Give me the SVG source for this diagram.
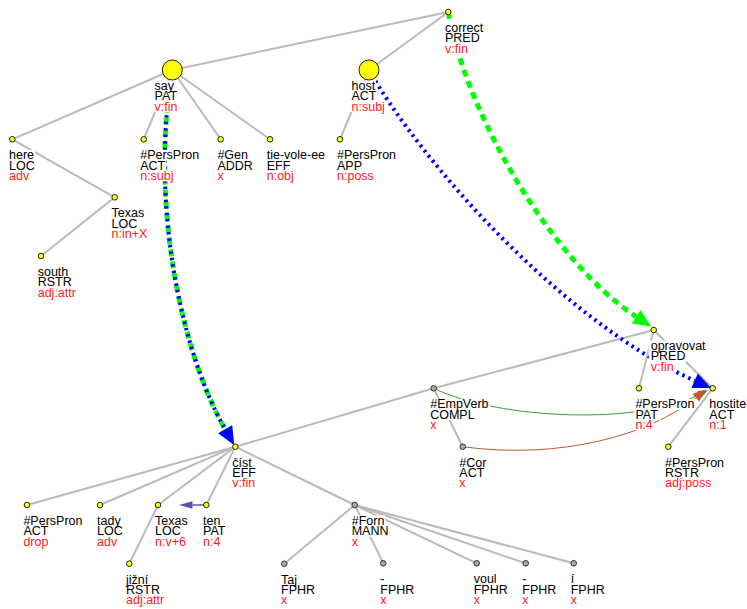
<svg xmlns="http://www.w3.org/2000/svg" width="747" height="609" viewBox="0 0 747 609">
<defs>
<style>
.e line{stroke:#bababa;stroke-width:2}
.nd text{font-family:"Liberation Sans",Arial,sans-serif;font-size:12.5px;fill:#000}
.nd text.r{fill:#ff1a1a}
.b{fill:#ffffff}
.y{fill:#ffff00;stroke:#222;stroke-width:1}
.g{fill:#a8a8a8;stroke:#333;stroke-width:1}
.a{fill:none}
.gd{stroke:#00ff00;stroke-width:5;stroke-dasharray:7 5}
.bd{stroke:#0000ff;stroke-width:4;stroke-dasharray:2.5 4}
</style>
<marker id="ahG" markerUnits="userSpaceOnUse" markerWidth="18" markerHeight="16" refX="0" refY="8" orient="auto" overflow="visible"><path d="M0,0L18,8L0,16Z" fill="#00ff00"/></marker>
<marker id="ahB" markerUnits="userSpaceOnUse" markerWidth="18" markerHeight="16" refX="0" refY="8" orient="auto" overflow="visible"><path d="M0,0L18,8L0,16Z" fill="#0000ff"/></marker>
<marker id="ahGs" markerUnits="userSpaceOnUse" markerWidth="10" markerHeight="8" refX="0" refY="4" orient="auto" overflow="visible"><path d="M0,0L10,4L0,8Z" fill="#3d9a3d"/></marker>
<marker id="ahR" markerUnits="userSpaceOnUse" markerWidth="13" markerHeight="10" refX="0" refY="5" orient="auto" overflow="visible"><path d="M0,0L13,5L0,10Z" fill="#c4562f"/></marker>
<marker id="ahS" markerUnits="userSpaceOnUse" markerWidth="13.5" markerHeight="7.5" refX="0" refY="3.75" orient="auto" overflow="visible"><path d="M0,0L13.5,3.75L0,7.5Z" fill="#5656a6"/></marker>
</defs>
<rect width="747" height="609" fill="#ffffff"/>
<g id="connectors">
<g class="e">
<line x1="448.3" y1="12" x2="172.3" y2="70"/>
<line x1="448.3" y1="12" x2="369" y2="70"/>
<line x1="172.3" y1="70" x2="12.3" y2="139.3"/>
<line x1="172.3" y1="70" x2="143.7" y2="139.3"/>
<line x1="172.3" y1="70" x2="220.7" y2="139.3"/>
<line x1="172.3" y1="70" x2="270" y2="139.3"/>
<line x1="12.3" y1="139.3" x2="114.7" y2="197.3"/>
<line x1="114.7" y1="197.3" x2="41" y2="256"/>
<line x1="369" y1="70" x2="340" y2="139.3"/>
<line x1="653.7" y1="330" x2="433.7" y2="388.3"/>
<line x1="653.7" y1="330" x2="639" y2="388.3"/>
<line x1="653.7" y1="330" x2="712.7" y2="388.3"/>
<line x1="712.7" y1="388.3" x2="668.3" y2="446.7"/>
<line x1="433.7" y1="388.3" x2="462.7" y2="446.7"/>
<line x1="433.7" y1="388.3" x2="235.3" y2="446.7"/>
<line x1="235.3" y1="446.7" x2="27" y2="505"/>
<line x1="235.3" y1="446.7" x2="100" y2="505"/>
<line x1="235.3" y1="446.7" x2="158" y2="505"/>
<line x1="235.3" y1="446.7" x2="206.3" y2="505"/>
<line x1="235.3" y1="446.7" x2="354.7" y2="505"/>
<line x1="158" y1="505" x2="129.3" y2="563.7"/>
<line x1="354.7" y1="505" x2="284.3" y2="563.7"/>
<line x1="354.7" y1="505" x2="383.3" y2="563.3"/>
<line x1="354.7" y1="505" x2="476.7" y2="563.3"/>
<line x1="354.7" y1="505" x2="525.7" y2="563.3"/>
<line x1="354.7" y1="505" x2="573.7" y2="563.3"/>
</g>
<path class="a gd" d="M448.3,12 C465,110 550,260 636.2,316.7" marker-end="url(#ahG)"/>
<path class="a bd" d="M369,70 C420,160 560,320 694.6,380.7" marker-end="url(#ahB)"/>
<path class="a gd" d="M172.3,70 C150,200 180,350 225.2,429.3" marker-end="url(#ahG)"/>
<path class="a bd" d="M172.3,70 C150,200 180,350 225.2,429.3" marker-end="url(#ahB)"/>
<path class="a" d="M433.7,388.3 C500,420 640,425 699.1,394.6" stroke="#3d9a3d" stroke-width="1" marker-end="url(#ahGs)"/>
<path class="a" d="M462.7,446.7 C560,460 650,435 695.9,397.7" stroke="#c4562f" stroke-width="1" marker-end="url(#ahR)"/>
<path class="a" d="M204,505 L192.5,505" stroke="#8282c0" stroke-width="2" marker-end="url(#ahS)"/>
</g>
<g class="nd">
<g id="n-correct" transform="translate(448.3,12)"><rect class="b" x="-4.3" y="10.5" width="40.2" height="11"/><rect class="b" x="-4.3" y="20.8" width="36.7" height="11"/><rect class="b" x="-4.3" y="31.1" width="24.9" height="11"/><text x="-3.3" y="20">correct</text><text x="-3.3" y="30.3">PRED</text><text class="r" x="-3.3" y="40.6">v:fin</text><circle class="y" r="2.8"/></g>
<g id="n-say" transform="translate(172.3,70)"><rect class="b" x="-18.7" y="10.5" width="21.5" height="11"/><rect class="b" x="-18.7" y="20.8" width="26.3" height="11"/><rect class="b" x="-18.7" y="31.1" width="24.9" height="11"/><text x="-17.7" y="20">say</text><text x="-17.7" y="30.3">PAT</text><text class="r" x="-17.7" y="40.6">v:fin</text><circle class="y" r="10"/></g>
<g id="n-host" transform="translate(369,70)"><rect class="b" x="-18.5" y="10.5" width="25.6" height="11"/><rect class="b" x="-18.5" y="20.8" width="27" height="11"/><rect class="b" x="-18.5" y="31.1" width="35.4" height="11"/><text x="-17.5" y="20">host</text><text x="-17.5" y="30.3">ACT</text><text class="r" x="-17.5" y="40.6">n:subj</text><circle class="y" r="10"/></g>
<g id="n-here" transform="translate(12.3,139.3)"><rect class="b" x="-4.3" y="10.5" width="27" height="11"/><rect class="b" x="-4.3" y="20.8" width="27.7" height="11"/><rect class="b" x="-4.3" y="31.1" width="22.2" height="11"/><text x="-3.3" y="20">here</text><text x="-3.3" y="30.3">LOC</text><text class="r" x="-3.3" y="40.6">adv</text><circle class="y" r="2.8"/></g>
<g id="n-perspron-act-en" transform="translate(143.7,139.3)"><rect class="b" x="-4.5" y="10.5" width="61.1" height="11"/><rect class="b" x="-4.5" y="20.8" width="27" height="11"/><rect class="b" x="-4.5" y="31.1" width="35.4" height="11"/><text x="-3.5" y="20">#PersPron</text><text x="-3.5" y="30.3">ACT</text><text class="r" x="-3.5" y="40.6">n:subj</text><circle class="y" r="2.8"/></g>
<g id="n-gen" transform="translate(220.7,139.3)"><rect class="b" x="-4.3" y="10.5" width="32.6" height="11"/><rect class="b" x="-4.3" y="20.8" width="37.4" height="11"/><rect class="b" x="-4.3" y="31.1" width="8.3" height="11"/><text x="-3.3" y="20">#Gen</text><text x="-3.3" y="30.3">ADDR</text><text class="r" x="-3.3" y="40.6">x</text><circle class="y" r="2.8"/></g>
<g id="n-tie" transform="translate(270,139.3)"><rect class="b" x="-4.3" y="10.5" width="60.4" height="11"/><rect class="b" x="-4.3" y="20.8" width="25.6" height="11"/><rect class="b" x="-4.3" y="31.1" width="29.1" height="11"/><text x="-3.3" y="20">tie-vole-ee</text><text x="-3.3" y="30.3">EFF</text><text class="r" x="-3.3" y="40.6">n:obj</text><circle class="y" r="2.8"/></g>
<g id="n-perspron-app" transform="translate(340,139.3)"><rect class="b" x="-4" y="10.5" width="61.1" height="11"/><rect class="b" x="-4" y="20.8" width="27" height="11"/><rect class="b" x="-4" y="31.1" width="38.8" height="11"/><text x="-3" y="20">#PersPron</text><text x="-3" y="30.3">APP</text><text class="r" x="-3" y="40.6">n:poss</text><circle class="y" r="2.8"/></g>
<g id="n-texas-en" transform="translate(114.7,197.3)"><rect class="b" x="-4.1" y="10.5" width="36" height="11"/><rect class="b" x="-4.1" y="20.8" width="27.7" height="11"/><rect class="b" x="-4.1" y="31.1" width="37.8" height="11"/><text x="-3.1" y="20">Texas</text><text x="-3.1" y="30.3">LOC</text><text class="r" x="-3.1" y="40.6">n:in+X</text><circle class="y" r="2.8"/></g>
<g id="n-south" transform="translate(41,256)"><rect class="b" x="-4.3" y="10.5" width="32.6" height="11"/><rect class="b" x="-4.3" y="20.8" width="36" height="11"/><rect class="b" x="-4.3" y="31.1" width="40.2" height="11"/><text x="-3.3" y="20">south</text><text x="-3.3" y="30.3">RSTR</text><text class="r" x="-3.3" y="40.6">adj:attr</text><circle class="y" r="2.8"/></g>
<g id="n-opravovat" transform="translate(653.7,330)"><rect class="b" x="-5" y="10.5" width="57.9" height="11"/><rect class="b" x="-5" y="20.8" width="37.7" height="11"/><rect class="b" x="-5" y="31.1" width="25.9" height="11"/><text x="-3" y="20">opravovat</text><text x="-3" y="30.3">PRED</text><text class="r" x="-3" y="40.6">v:fin</text><circle class="y" r="2.8"/></g>
<g id="n-empverb" transform="translate(433.7,388.3)"><rect class="b" x="-4.5" y="10.5" width="61.1" height="11"/><rect class="b" x="-4.5" y="20.8" width="46.5" height="11"/><rect class="b" x="-4.5" y="31.1" width="8.3" height="11"/><text x="-3.5" y="20">#EmpVerb</text><text x="-3.5" y="30.3">COMPL</text><text class="r" x="-3.5" y="40.6">x</text><circle class="g" r="2.8"/></g>
<g id="n-perspron-pat" transform="translate(639,388.3)"><rect class="b" x="-4.6" y="10.5" width="61.1" height="11"/><rect class="b" x="-4.6" y="20.8" width="26.3" height="11"/><rect class="b" x="-4.6" y="31.1" width="19.4" height="11"/><text x="-3.6" y="20">#PersPron</text><text x="-3.6" y="30.3">PAT</text><text class="r" x="-3.6" y="40.6">n:4</text><circle class="y" r="2.8"/></g>
<g id="n-hostitel" transform="translate(712.7,388.3)"><rect class="b" x="-4.4" y="10.5" width="41.6" height="11"/><rect class="b" x="-4.4" y="20.8" width="27" height="11"/><rect class="b" x="-4.4" y="31.1" width="19.4" height="11"/><text x="-3.4" y="20">hostitel</text><text x="-3.4" y="30.3">ACT</text><text class="r" x="-3.4" y="40.6">n:1</text><circle class="y" r="2.8"/></g>
<g id="n-cor" transform="translate(462.7,446.7)"><rect class="b" x="-4.4" y="10.5" width="29.1" height="11"/><rect class="b" x="-4.4" y="20.8" width="27" height="11"/><rect class="b" x="-4.4" y="31.1" width="8.3" height="11"/><text x="-3.4" y="20">#Cor</text><text x="-3.4" y="30.3">ACT</text><text class="r" x="-3.4" y="40.6">x</text><circle class="g" r="2.8"/></g>
<g id="n-perspron-rstr" transform="translate(668.3,446.7)"><rect class="b" x="-4.3" y="10.5" width="61.1" height="11"/><rect class="b" x="-4.3" y="20.8" width="36" height="11"/><rect class="b" x="-4.3" y="31.1" width="48.6" height="11"/><text x="-3.3" y="20">#PersPron</text><text x="-3.3" y="30.3">RSTR</text><text class="r" x="-3.3" y="40.6">adj:poss</text><circle class="y" r="2.8"/></g>
<g id="n-cist" transform="translate(235.3,446.7)"><rect class="b" x="-4" y="10.5" width="20.8" height="11"/><rect class="b" x="-4" y="20.8" width="25.6" height="11"/><rect class="b" x="-4" y="31.1" width="24.9" height="11"/><text x="-3" y="20">číst</text><text x="-3" y="30.3">EFF</text><text class="r" x="-3" y="40.6">v:fin</text><circle class="y" r="2.8"/></g>
<g id="n-perspron-act-cs" transform="translate(27,505)"><rect class="b" x="-4.6" y="10.5" width="61.1" height="11"/><rect class="b" x="-4.6" y="20.8" width="27" height="11"/><rect class="b" x="-4.6" y="31.1" width="27" height="11"/><text x="-3.6" y="20">#PersPron</text><text x="-3.6" y="30.3">ACT</text><text class="r" x="-3.6" y="40.6">drop</text><circle class="y" r="2.8"/></g>
<g id="n-tady" transform="translate(100,505)"><rect class="b" x="-4" y="10.5" width="25.6" height="11"/><rect class="b" x="-4" y="20.8" width="27.7" height="11"/><rect class="b" x="-4" y="31.1" width="22.2" height="11"/><text x="-3" y="20">tady</text><text x="-3" y="30.3">LOC</text><text class="r" x="-3" y="40.6">adv</text><circle class="y" r="2.8"/></g>
<g id="n-texas-cs" transform="translate(158,505)"><rect class="b" x="-4" y="10.5" width="36" height="11"/><rect class="b" x="-4" y="20.8" width="27.7" height="11"/><rect class="b" x="-4" y="31.1" width="32.9" height="11"/><text x="-3" y="20">Texas</text><text x="-3" y="30.3">LOC</text><text class="r" x="-3" y="40.6">n:v+6</text><circle class="y" r="2.8"/></g>
<g id="n-ten" transform="translate(206.3,505)"><rect class="b" x="-4.3" y="10.5" width="19.4" height="11"/><rect class="b" x="-4.3" y="20.8" width="26.3" height="11"/><rect class="b" x="-4.3" y="31.1" width="19.4" height="11"/><text x="-3.3" y="20">ten</text><text x="-3.3" y="30.3">PAT</text><text class="r" x="-3.3" y="40.6">n:4</text><circle class="y" r="2.8"/></g>
<g id="n-forn" transform="translate(354.7,505)"><rect class="b" x="-4" y="10.5" width="34.7" height="11"/><rect class="b" x="-4" y="20.8" width="38.8" height="11"/><rect class="b" x="-4" y="31.1" width="8.3" height="11"/><text x="-3" y="20">#Forn</text><text x="-3" y="30.3">MANN</text><text class="r" x="-3" y="40.6">x</text><circle class="g" r="2.8"/></g>
<g id="n-jizni" transform="translate(129.3,563.7)"><rect class="b" x="-4.3" y="10.5" width="23.5" height="11"/><rect class="b" x="-4.3" y="20.8" width="36" height="11"/><rect class="b" x="-4.3" y="31.1" width="40.2" height="11"/><text x="-3.3" y="20">jižní</text><text x="-3.3" y="30.3">RSTR</text><text class="r" x="-3.3" y="40.6">adj:attr</text><circle class="y" r="2.8"/></g>
<g id="n-taj" transform="translate(284.3,563.7)"><rect class="b" x="-4.3" y="10.5" width="19.4" height="11"/><rect class="b" x="-4.3" y="20.8" width="36" height="11"/><rect class="b" x="-4.3" y="31.1" width="8.3" height="11"/><text x="-3.3" y="20">Taj</text><text x="-3.3" y="30.3">FPHR</text><text class="r" x="-3.3" y="40.6">x</text><circle class="g" r="2.8"/></g>
<g id="n-dash1" transform="translate(383.3,563.3)"><rect class="b" x="-4" y="10.5" width="6.2" height="11"/><rect class="b" x="-4" y="20.8" width="36" height="11"/><rect class="b" x="-4" y="31.1" width="8.3" height="11"/><text x="-3" y="20">-</text><text x="-3" y="30.3">FPHR</text><text class="r" x="-3" y="40.6">x</text><circle class="g" r="2.8"/></g>
<g id="n-voul" transform="translate(476.7,563.3)"><rect class="b" x="-4" y="10.5" width="24.9" height="11"/><rect class="b" x="-4" y="20.8" width="36" height="11"/><rect class="b" x="-4" y="31.1" width="8.3" height="11"/><text x="-3" y="20">voul</text><text x="-3" y="30.3">FPHR</text><text class="r" x="-3" y="40.6">x</text><circle class="g" r="2.8"/></g>
<g id="n-dash2" transform="translate(525.7,563.3)"><rect class="b" x="-4.4" y="10.5" width="6.2" height="11"/><rect class="b" x="-4.4" y="20.8" width="36" height="11"/><rect class="b" x="-4.4" y="31.1" width="8.3" height="11"/><text x="-3.4" y="20">-</text><text x="-3.4" y="30.3">FPHR</text><text class="r" x="-3.4" y="40.6">x</text><circle class="g" r="2.8"/></g>
<g id="n-i" transform="translate(573.7,563.3)"><rect class="b" x="-4" y="10.5" width="4.8" height="11"/><rect class="b" x="-4" y="20.8" width="36" height="11"/><rect class="b" x="-4" y="31.1" width="8.3" height="11"/><text x="-3" y="20">í</text><text x="-3" y="30.3">FPHR</text><text class="r" x="-3" y="40.6">x</text><circle class="g" r="2.8"/></g>
</g>
</svg>
